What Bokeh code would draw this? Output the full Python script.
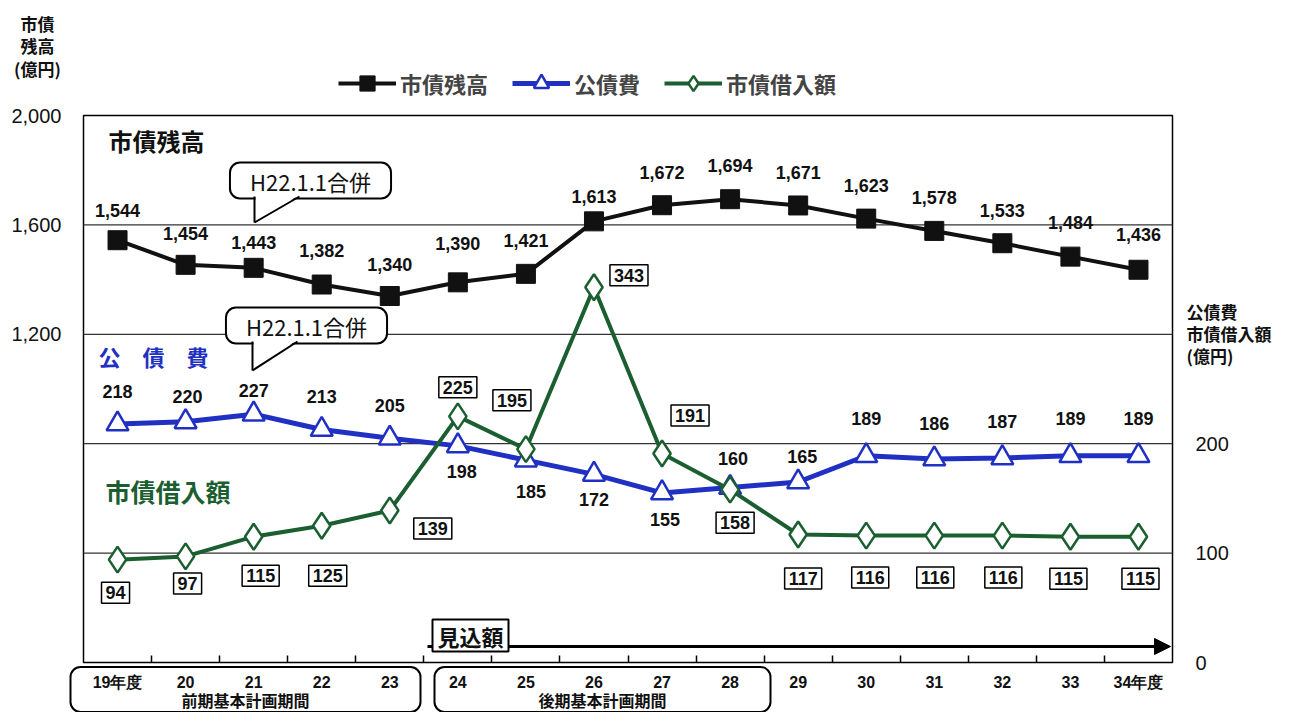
from bokeh.plotting import figure
from bokeh.models import (Range1d, LinearAxis, FixedTicker, NumeralTickFormatter, Label,
                          Legend, LegendItem, Arrow, NormalHead, ColumnDataSource)
from bokeh.core.properties import value
from bokeh.embed import file_html
from bokeh.resources import INLINE

# ---------------- data ----------------
years = ["19年度", "20", "21", "22", "23", "24", "25", "26", "27", "28",
         "29", "30", "31", "32", "33", "34年度"]
balance = [1544, 1454, 1443, 1382, 1340, 1390, 1421, 1613, 1672, 1694,
           1671, 1623, 1578, 1533, 1484, 1436]          # 市債残高 (left axis)
debt_service = [218, 220, 227, 213, 205, 198, 185, 172, 155, 160,
                165, 189, 186, 187, 189, 189]           # 公債費 (right axis)
borrowing = [94, 97, 115, 125, 139, 225, 195, 343, 191, 158,
             117, 116, 116, 116, 115, 115]              # 市債借入額 (right axis)
left_ticks = [1200, 1600, 2000]
right_ticks = [0, 100, 200]
grid_ticks = [400, 800, 1200, 1600]
left_max = 2000
right_max = 500

# ---------------- label offsets (style) ----------------
bal_dy = [-30, -31, -25, -34, -32, -39, -33, -25, -33, -34, -33, -33, -33, -33, -34, -35]
ds_dx = [0, 2, 0, 0, 0, 4, 5, 0, 3, 3, 4, 0, 0, 0, 0, 0]
ds_dy = [-33, -25, -24, -33, -33, 26, 31, 25, 27, -29, -25, -37, -36, -36, -37, -37]
bw_dx = [-2, 2, 7, 6, 43, 0, -14, 35, 28, 5, 5, 4, 1, 1, -2, 2]
bw_dy = [33, 27, 39, 50, 18, -29, -49, -12, -38, 33, 44, 42, 42, 42, 42, 42]

BLACK = "#111111"
BLUE = "#1f30c2"
GREEN = "#1b5e30"
CJK = "Noto Sans CJK JP"
LAT = "Liberation Sans"

W, H = 1294, 712
AL, AT, AR, AB = 83, 115, 1172, 662      # plotting-area box in canvas pixels
N = len(years)
PX_PER_CAT = (AR - AL) / N
UNITS_PER_PX = left_max / (AB - AT)


def X(px):  # canvas x -> category coordinate
    return -0.5 + (px - AL) / PX_PER_CAT


def Y(py):  # canvas y -> left-axis value
    return (AB - py) * UNITS_PER_PX


ratio = right_max / left_max

p = figure(frame_width=W, frame_height=H, min_border=0,
           x_range=Range1d(X(0), X(W)), y_range=Range1d(Y(H), Y(0)),
           output_backend="svg", toolbar_location=None, background_fill_color="white",
           border_fill_color="white")
p.extra_y_ranges = {"r": Range1d(Y(H) * ratio, Y(0) * ratio)}
p.outline_line_color = None
p.xgrid.visible = False
p.ygrid.visible = False

# plot-area box and grid lines
p.quad(left=[-0.5], right=[N - 0.5], bottom=[0], top=[left_max], fill_color=None,
       line_color="black", line_width=1.5)
p.segment(x0=[-0.5] * len(grid_ticks), x1=[N - 0.5] * len(grid_ticks), y0=grid_ticks,
          y1=grid_ticks, line_color="#333333", line_width=1.3)

# left axis
ya = p.yaxis[0]
ya.fixed_location = -0.5
ya.ticker = FixedTicker(ticks=left_ticks)
ya.formatter = NumeralTickFormatter(format="0,0")
ya.major_tick_line_color = None
ya.minor_tick_line_color = None
ya.axis_line_color = None
ya.major_label_standoff = 16
ya.major_label_text_font = LAT
ya.major_label_text_font_size = "20px"
ya.major_label_text_color = BLACK

# right axis
ra = LinearAxis(y_range_name="r", ticker=FixedTicker(ticks=right_ticks), fixed_location=N - 0.5)
ra.major_tick_line_color = None
ra.minor_tick_line_color = None
ra.axis_line_color = None
ra.major_label_standoff = 17
ra.major_label_text_font = LAT
ra.major_label_text_font_size = "20px"
ra.major_label_text_color = BLACK
p.add_layout(ra, "right")

# x axis
xa = p.xaxis[0]
xa.fixed_location = 0
xa.ticker = FixedTicker(ticks=list(range(N)), minor_ticks=[i + 0.5 for i in range(N - 1)])
xa.major_label_overrides = {i: years[i] for i in range(N)}
xa.major_tick_line_color = None
xa.minor_tick_in = 7
xa.minor_tick_out = 0
xa.minor_tick_line_color = "black"
xa.minor_tick_line_width = 1.5
xa.axis_line_color = None
xa.major_label_standoff = 5
xa.major_label_text_font = LAT
xa.major_label_text_font_size = "16px"
xa.major_label_text_font_style = "bold"
xa.major_label_text_color = BLACK

idx = list(range(N))
src = ColumnDataSource(dict(x=idx, bal=balance, ds=debt_service, bw=borrowing,
                            bal_t=[f"{v:,}" for v in balance],
                            ds_t=[str(v) for v in debt_service],
                            bw_t=[str(v) for v in borrowing],
                            bal_dy=bal_dy, ds_dx=ds_dx, ds_dy=ds_dy, bw_dx=bw_dx, bw_dy=bw_dy))

# blue series
bl_l = p.line("x", "ds", source=src, y_range_name="r", line_color=BLUE, line_width=5)
bl_m = p.scatter("x", "ds", source=src, y_range_name="r", marker="triangle", size=22,
                 fill_color="white", line_color=BLUE, line_width=2.5)
# green series
gr_l = p.line("x", "bw", source=src, y_range_name="r", line_color=GREEN, line_width=4)
gr_m = p.scatter("x", "bw", source=src, y_range_name="r", marker="diamond", size=26,
                 fill_color="white", line_color=GREEN, line_width=2.5)
# black series
bk_l = p.line("x", "bal", source=src, line_color=BLACK, line_width=4)
bk_m = p.scatter("x", "bal", source=src, marker="square", size=19,
                 fill_color=BLACK, line_color=BLACK)

# value labels
p.text("x", "bal", text="bal_t", source=src, y_offset="bal_dy", text_align="center",
       text_baseline="middle", text_font=value(LAT), text_font_size="18px",
       text_font_style="bold", text_color=BLACK)
p.text("x", "ds", text="ds_t", source=src, y_range_name="r", x_offset="ds_dx", y_offset="ds_dy",
       text_align="center", text_baseline="middle", text_font=value(LAT),
       text_font_size="18px", text_font_style="bold", text_color=BLACK)
p.text("x", "bw", text="bw_t", source=src, y_range_name="r", x_offset="bw_dx", y_offset="bw_dy",
       text_align="center", text_baseline="middle", text_font=value(LAT),
       text_font_size="18px", text_font_style="bold", text_color=BLACK,
       background_fill_color="white", border_line_color="black", border_line_width=1.5,
       padding=4)

# series name labels
p.add_layout(Label(x=X(108), y=Y(140), text="市債残高", text_align="left", text_baseline="middle",
                   text_font=CJK, text_font_size="24px", text_font_style="bold", text_color=BLACK))
p.add_layout(Label(x=X(98), y=Y(355), text="公　債　費", text_align="left", text_baseline="middle",
                   text_font=CJK, text_font_size="22px", text_font_style="bold", text_color=BLUE))
p.add_layout(Label(x=X(105), y=Y(490), text="市債借入額", text_align="left", text_baseline="middle",
                   text_font=CJK, text_font_size="25px", text_font_style="bold", text_color=GREEN))

# axis titles
p.add_layout(Label(x=X(37), y=Y(10), text="市債\n残高\n(億円)", text_align="center",
                   text_baseline="top", text_font=CJK, text_font_size="17px",
                   text_font_style="bold", text_color=BLACK, text_line_height=0.9))
p.add_layout(Label(x=X(1186), y=Y(298), text="公債費\n市債借入額\n(億円)", text_align="left",
                   text_baseline="top", text_font=CJK, text_font_size="17px",
                   text_font_style="bold", text_color=BLACK, text_line_height=0.88))

# callouts
for cx, cy, tip in [(310, 180, (254, 222)), (306, 325, (252, 370))]:
    p.add_layout(Label(x=X(cx), y=Y(cy), text="H22.1.1合併", text_align="center",
                       text_baseline="middle", text_font=CJK, text_font_size="22px",
                       text_color=BLACK, background_fill_color="white",
                       border_line_color="black", border_line_width=2, border_radius=10,
                       padding=dict(left=20, right=20, top=2, bottom=2)))
    by = cy + 18
    p.patch([X(tip[0] + 1), X(tip[0] + 44), X(tip[0] + 1)], [Y(by - 3), Y(by - 3), Y(tip[1] - 1)],
            fill_color="white", line_color=None, level="overlay")
    p.multi_line([[X(tip[0]), X(tip[0])], [X(tip[0] + 45), X(tip[0])]],
                 [[Y(by - 2), Y(tip[1])], [Y(by - 2), Y(tip[1])]],
                 line_color="black", line_width=2, level="overlay")

# forecast arrow and label
p.add_layout(Arrow(end=NormalHead(size=16, fill_color="black", line_color="black"),
                   x_start=X(427), y_start=Y(646), x_end=X(1170), y_end=Y(646),
                   line_width=3, line_color="black"))
p.add_layout(Label(x=X(470), y=Y(635), text="見込額", text_align="center", text_baseline="middle",
                   text_font=CJK, text_font_size="22px", text_font_style="bold",
                   text_color=BLACK, background_fill_color="white", border_line_color="black",
                   border_line_width=2, padding=dict(left=5, right=5, top=0, bottom=0)))

# period group boxes (anchor is the centre of the padded box)
for cx, txt, half in [(245, "前期基本計画期間", 175), (602, "後期基本計画期間", 168)]:
    p.add_layout(Label(x=X(cx), y=Y(689), text=txt, text_align="center", text_baseline="middle",
                       text_font=CJK, text_font_size="16px", text_font_style="bold",
                       text_color=BLACK, background_fill_alpha=0, border_line_color="black",
                       border_line_width=2, border_radius=10,
                       padding=dict(left=half - 64, right=half - 64, top=21, bottom=0)))

# legend
legend = Legend(items=[LegendItem(label="市債残高", renderers=[bk_l, bk_m]),
                       LegendItem(label="公債費", renderers=[bl_l, bl_m]),
                       LegendItem(label="市債借入額", renderers=[gr_l, gr_m])],
                orientation="horizontal", location=(338, H - 102),
                label_text_font=CJK, label_text_font_size="22px", label_text_font_style="bold",
                glyph_width=58, glyph_height=38, spacing=24, label_standoff=4,
                padding=0, margin=0, border_line_alpha=0, background_fill_alpha=0)
p.add_layout(legend, "center")

open("out.html", "w").write(file_html(p, INLINE))
